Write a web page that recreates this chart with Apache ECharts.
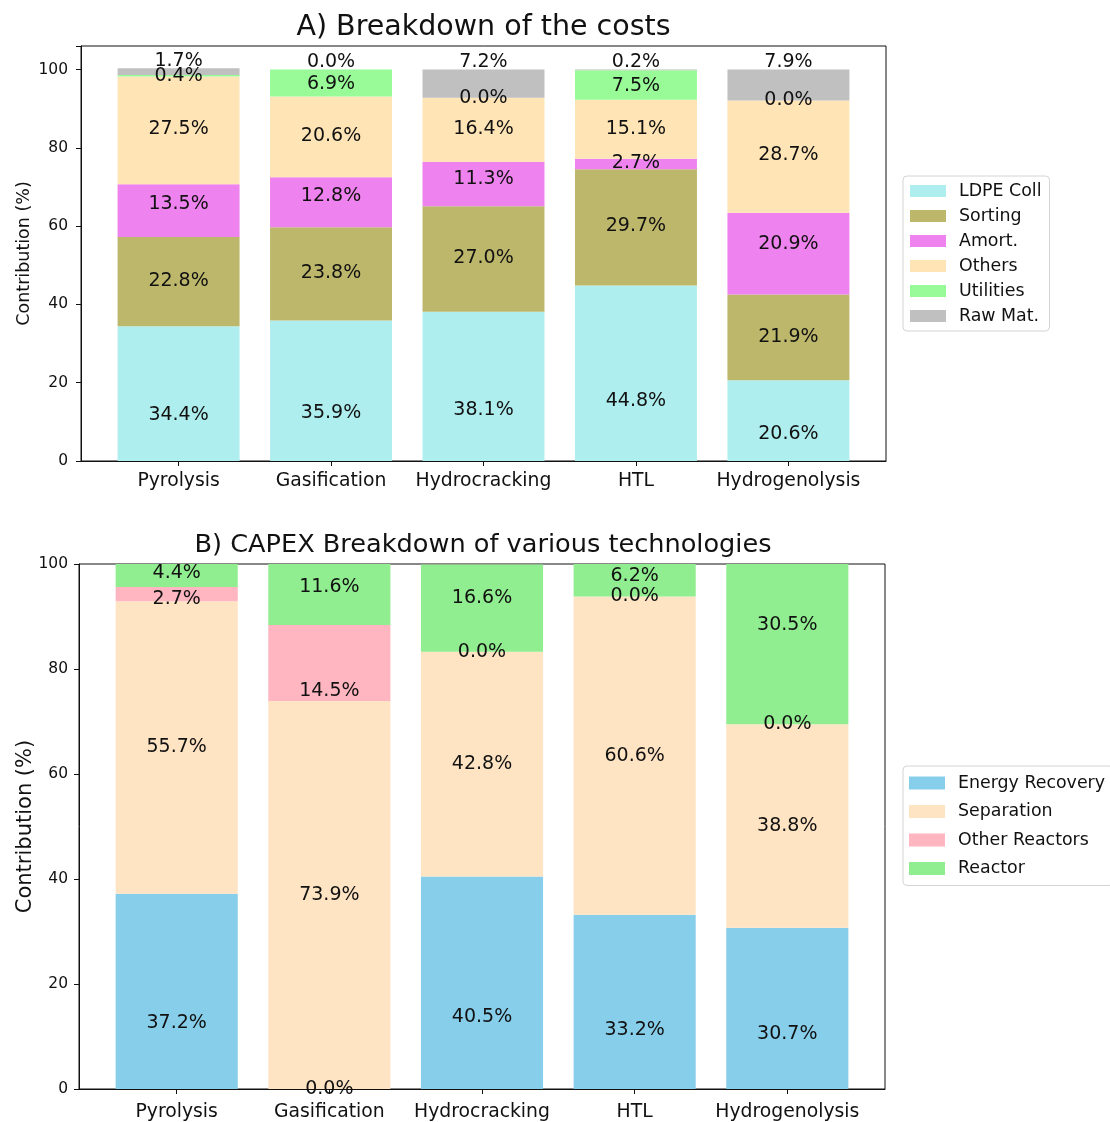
<!DOCTYPE html>
<html>
<head>
<meta charset="utf-8">
<script src="https://cdn.jsdelivr.net/npm/echarts@6/dist/echarts.min.js"></script>
<style>
  html, body { margin: 0; padding: 0; background: #fff; }
  #chart { width: 1110px; height: 1122px; }
</style>
</head>
<body>
<div id="chart"></div>
<script>
// Technologies compared in both panels
const technologies = ['Pyrolysis', 'Gasification', 'Hydrocracking', 'HTL', 'Hydrogenolysis'];
const techPositions = [0, 1, 2, 3, 4];
const yTicks = [0, 20, 40, 60, 80, 100];

// Panel A: breakdown of the costs (%)
const costLdpeColl  = [34.4, 35.9, 38.1, 44.8, 20.6];
const costSorting   = [22.8, 23.8, 27.0, 29.7, 21.9];
const costAmort     = [13.5, 12.8, 11.3,  2.7, 20.9];
const costOthers    = [27.5, 20.6, 16.4, 15.1, 28.7];
const costUtilities = [ 0.4,  6.9,  0.0,  7.5,  0.0];
const costRawMat    = [ 1.7,  0.0,  7.2,  0.2,  7.9];

// Panel B: CAPEX breakdown (%)
const capexEnergyRecovery = [37.2,  0.0, 40.5, 33.2, 30.7];
const capexSeparation     = [55.7, 73.9, 42.8, 60.6, 38.8];
const capexOtherReactors  = [ 2.7, 14.5,  0.0,  0.0,  0.0];
const capexReactor        = [ 4.4, 11.6, 16.6,  6.2, 30.5];

const FONT = 'DejaVu Sans';
const INK = '#111';

// x range of each panel in category units (bars are 0.8 wide)
const X_MIN = -0.64, X_MAX = 4.64;

// Each panel: an outer frame grid carrying the visible axes and an inner grid
// whose five category bands line up with x = 0..4 of the frame's value axis.
const panels = [
  { left: 81, width: 805, top: 46, height: 415, yMax: 106, nameSize: 17.5, nameGap: 48, labelMargin: 13, xMargin: 11 },
  { left: 79, width: 806, top: 564, height: 525, yMax: 100, nameSize: 21, nameGap: 43, labelMargin: 11, xMargin: 14 }
];

const grids = [];
const xAxes = [];
const yAxes = [];
panels.forEach((p, k) => {
  const unit = p.width / (X_MAX - X_MIN);
  grids.push({ left: p.left, width: p.width, top: p.top, height: p.height, show: true,
               borderColor: INK, borderWidth: 1, backgroundColor: 'transparent' });
  grids.push({ left: p.left + (-0.5 - X_MIN) * unit, width: 5 * unit, top: p.top, height: p.height });

  xAxes.push({
    type: 'value', gridIndex: 2 * k, min: X_MIN, max: X_MAX,
    splitLine: { show: false },
    axisLine: { show: true, onZero: false, lineStyle: { color: INK, width: 1 } },
    axisTick: { show: true, customValues: techPositions, length: 5, lineStyle: { color: INK } },
    axisLabel: {
      customValues: techPositions,
      formatter: v => technologies[Math.round(v)],
      fontFamily: FONT, fontSize: 18.8, color: INK, margin: p.xMargin
    }
  });
  xAxes.push({
    type: 'category', gridIndex: 2 * k + 1, data: technologies, boundaryGap: true,
    show: false
  });

  yAxes.push({
    type: 'value', gridIndex: 2 * k, min: 0, max: p.yMax, interval: 20,
    name: 'Contribution (%)', nameLocation: 'middle', nameGap: p.nameGap,
    nameMoveOverlap: false,
    nameTextStyle: { fontFamily: FONT, fontSize: p.nameSize, color: INK },
    splitLine: { show: false },
    axisLine: { show: true, onZero: false, lineStyle: { color: INK, width: 1 } },
    axisTick: { show: true, length: 5, lineStyle: { color: INK } },
    axisLabel: {
      fontFamily: FONT, fontSize: 15.5, color: INK, margin: p.labelMargin,
      formatter: v => (yTicks.indexOf(v) >= 0 ? String(v) : '')
    }
  });
  yAxes.push({ type: 'value', gridIndex: 2 * k + 1, min: 0, max: p.yMax, show: false });
});

function barSeries(name, values, color, panel, labelCfg) {
  return {
    type: 'bar',
    name: name,
    stack: 'panel' + panel,
    xAxisIndex: 2 * panel + 1,
    yAxisIndex: 2 * panel + 1,
    barWidth: '80%',
    data: values,
    itemStyle: { color: color },
    label: Object.assign({
      show: true,
      fontFamily: FONT,
      fontSize: 19,
      color: INK,
      formatter: p => p.value.toFixed(1) + '%'
    }, labelCfg),
    emphasis: { disabled: true },
    silent: true
  };
}

// label placed at a fraction of the segment height, measured from its bottom
function inside(fracFromBottom) {
  return {
    position: ['50%', ((1 - fracFromBottom) * 100).toFixed(1) + '%'],
    align: 'center',
    verticalAlign: 'middle'
  };
}

function legendFor(names, top, itemHeight, gap, padding) {
  return {
    data: names,
    orient: 'vertical',
    left: 903,
    top: top,
    icon: 'rect',
    itemWidth: 36,
    itemHeight: itemHeight,
    itemGap: gap,
    padding: padding,
    backgroundColor: '#fff',
    borderColor: '#d4d4d4',
    borderWidth: 1,
    borderRadius: 4,
    selectedMode: false,
    textStyle: { fontFamily: FONT, fontSize: 17.4, lineHeight: 20, color: INK, padding: [0, 0, 0, 8] }
  };
}

const costNames = ['LDPE Coll', 'Sorting', 'Amort.', 'Others', 'Utilities', 'Raw Mat.'];
const capexNames = ['Energy Recovery', 'Separation', 'Other Reactors', 'Reactor'];

const option = {
  animation: false,
  backgroundColor: '#fff',
  textStyle: { fontFamily: FONT },
  grid: grids,
  xAxis: xAxes,
  yAxis: yAxes,
  legend: [
    legendFor(costNames, 176, 12, 5, [5, 8, 5, 7]),
    legendFor(capexNames, 766, 13, 8.5, [7, 8, 7, 6])
  ],
  graphic: [
    { type: 'text', x: 483.5, y: 28, style: { text: 'A) Breakdown of the costs', fontFamily: FONT, fontSize: 28.5, fill: INK, align: 'center', verticalAlign: 'middle' } },
    { type: 'text', x: 483, y: 545, style: { text: 'B) CAPEX Breakdown of various technologies', fontFamily: FONT, fontSize: 25.6, fill: INK, align: 'center', verticalAlign: 'middle' } }
  ],
  series: [
    barSeries('LDPE Coll', costLdpeColl, '#AFEEEE', 0, inside(0.34)),
    barSeries('Sorting', costSorting, '#BDB76B', 0, inside(0.51)),
    barSeries('Amort.', costAmort, '#EE82EE', 0, inside(0.62)),
    barSeries('Others', costOthers, '#FFE4B5', 0, inside(0.51)),
    barSeries('Utilities', costUtilities, '#98FB98', 0, inside(0.45)),
    barSeries('Raw Mat.', costRawMat, '#C0C0C0', 0, { position: 'top', distance: -2 }),

    barSeries('Energy Recovery', capexEnergyRecovery, '#87CEEB', 1, inside(0.34)),
    barSeries('Separation', capexSeparation, '#FFE4C4', 1, inside(0.5)),
    barSeries('Other Reactors', capexOtherReactors, '#FFB6C1', 1, inside(0.13)),
    barSeries('Reactor', capexReactor, '#90EE90', 1, inside(0.62))
  ]
};

const chart = echarts.init(document.getElementById('chart'), null, { renderer: 'canvas' });
chart.setOption(option);
</script>
</body>
</html>
